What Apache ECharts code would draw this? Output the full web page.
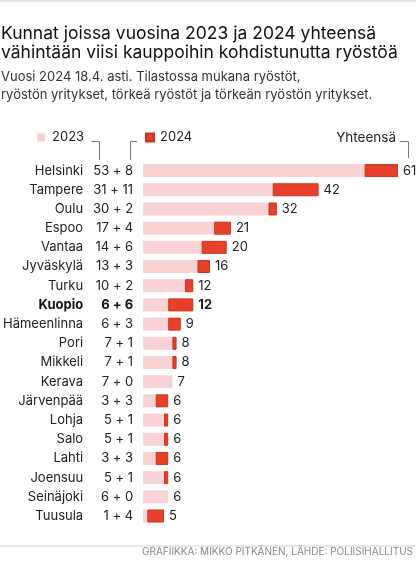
<!DOCTYPE html>
<html>
<head>
<meta charset="utf-8">
<script src="https://cdn.jsdelivr.net/npm/echarts@6/dist/echarts.min.js"></script>
<style>
html,body{margin:0;padding:0;background:#fff;}
#chart{width:416px;height:562px;}
</style>
</head>
<body>
<div id="chart"></div>
<script>
var cities = ['Helsinki','Tampere','Oulu','Espoo','Vantaa','Jyväskylä','Turku','Kuopio','Hämeenlinna','Pori','Mikkeli','Kerava','Järvenpää','Lohja','Salo','Lahti','Joensuu','Seinäjoki','Tuusula'];
var v2023 = [53,31,30,17,14,13,10,6,6,7,7,7,3,5,5,3,5,6,1];
var v2024 = [8,11,2,4,6,3,2,6,3,1,1,0,3,1,1,3,1,0,4];
var totals = [61,42,32,21,20,16,12,12,9,8,8,7,6,6,6,6,6,6,5];
var boldCity = 'Kuopio';

var FONT = 'Inter';
var TXT = '#222';
var PINK = '#f8d2d5';
var RED = '#e6402a';

var chart = echarts.init(document.getElementById('chart'), null, {renderer:'canvas'});

var data2024 = v2024.map(function(v,i){
  var item = {value: v};
  if (cities[i] === boldCity) item.label = {fontWeight:'bold'};
  if (v === 0) item.itemStyle = {borderWidth: 0};
  return item;
});

var option = {
  animation: false,
  textStyle: {fontFamily: FONT},
  title: [
    {text: 'Kunnat joissa vuosina 2023 ja 2024 yhteensä\nvähintään viisi kauppoihin kohdistunutta ryöstöä',
     left: 1, top: 24, padding: 0,
     textStyle: {fontFamily: FONT, fontSize: 17.5, fontWeight: 'normal', color: '#111', lineHeight: 19}},
    {text: 'Vuosi 2024 18.4. asti. Tilastossa mukana ryöstöt,\nryöstön yritykset, törkeä ryöstöt ja törkeän ryöstön yritykset.',
     left: 1, top: 68, padding: 0,
     textStyle: {fontFamily: FONT, fontSize: 13, fontWeight: 'normal', color: '#333', lineHeight: 18}},
    {text: 'GRAFIIKKA: MIKKO PITKÄNEN, LÄHDE: POLIISIHALLITUS',
     right: 3, top: 547, padding: 0,
     textStyle: {fontFamily: FONT, fontSize: 10, fontWeight: 'normal', color: '#888'}}
  ],
  legend: [
    {data: ['2023'], left: 37, top: 131, padding: 0, itemWidth: 8, itemHeight: 8, icon: 'rect',
     textStyle: {fontFamily: FONT, fontSize: 13, color: TXT, padding: [0,0,0,2]}},
    {data: ['2024'], left: 145, top: 131, padding: 0, itemWidth: 8, itemHeight: 8, icon: 'rect',
     textStyle: {fontFamily: FONT, fontSize: 13, color: TXT, padding: [0,0,0,1]}}
  ],
  grid: {left: 143, right: 18, top: 161, bottom: 36.4, containLabel: false},
  xAxis: {type: 'value', min: 0, max: 61, show: false},
  yAxis: {
    type: 'category', data: cities, inverse: true,
    axisLine: {show: false}, axisTick: {show: false}, splitLine: {show: false},
    axisLabel: {
      margin: 10,
      formatter: function(val, idx){
        var b = val === boldCity ? 'B' : '';
        return '{n' + b + '|' + val + '}{v' + b + '|' + v2023[idx] + ' + ' + v2024[idx] + '}';
      },
      rich: {
        n: {fontFamily: FONT, fontSize: 13, color: TXT, width: 80, align: 'right'},
        v: {fontFamily: FONT, fontSize: 13, color: TXT, width: 50, align: 'right'},
        nB: {fontFamily: FONT, fontSize: 13, color: '#111', fontWeight: 'bold', width: 80, align: 'right'},
        vB: {fontFamily: FONT, fontSize: 13, color: '#111', fontWeight: 'bold', width: 50, align: 'right'}
      }
    }
  },
  series: [
    {name: '2023', type: 'bar', stack: 'tot', data: v2023, barWidth: 13,
     itemStyle: {color: PINK}},
    {name: '2024', type: 'bar', stack: 'tot', data: data2024, barWidth: 13,
     itemStyle: {color: RED, borderColor: '#c9321d', borderWidth: 1},
     label: {show: true, position: 'right', distance: 5, fontFamily: FONT, fontSize: 13, color: TXT,
       formatter: function(p){ return totals[p.dataIndex]; }}}
  ],
  graphic: [
    {type: 'line', shape: {x1: 0, y1: 1, x2: 416, y2: 1}, style: {stroke: '#c8c8c8', lineWidth: 1}},
    {type: 'line', shape: {x1: 0, y1: 546, x2: 416, y2: 546}, style: {stroke: '#d0d0d0', lineWidth: 1}},
    {type: 'polyline', shape: {points: [[91.5,141.5],[99.5,141.5],[99.5,160]]}, style: {stroke: '#777', lineWidth: 1, fill: null}},
    {type: 'polyline', shape: {points: [[137,141.5],[130.5,141.5],[130.5,160]]}, style: {stroke: '#777', lineWidth: 1, fill: null}},
    {type: 'polyline', shape: {points: [[400,141.5],[408.5,141.5],[408.5,158]]}, style: {stroke: '#777', lineWidth: 1, fill: null}},
    {type: 'text', right: 20, top: 131, style: {text: 'Yhteensä', fontFamily: FONT, fontSize: 13.5, fill: TXT}}
  ]
};
chart.setOption(option);
</script>
</body>
</html>
